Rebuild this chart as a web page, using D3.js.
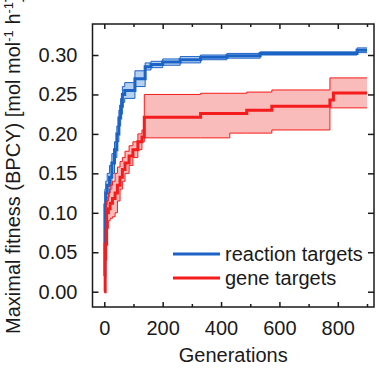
<!DOCTYPE html>
<html>
<head>
<meta charset="utf-8">
<script src="https://d3js.org/d3.v7.min.js"></script>
<style>
  body { margin: 0; background: #fff; }
  text { font-family: "Liberation Sans", Arial, sans-serif; fill: #1a1a1a; }
</style>
</head>
<body>
<div id="graphic"></div>
<script>
// data
const blueGen  = [0, 2, 5, 10, 18, 26, 35, 43, 50, 56, 62, 70, 105, 140, 160, 200, 260, 330, 420, 534, 866, 900];
const blueMean = [0.02, 0.11, 0.125, 0.135, 0.145, 0.163, 0.18, 0.20, 0.22, 0.235, 0.25, 0.255, 0.27, 0.285, 0.288, 0.291, 0.294, 0.297, 0.299, 0.302, 0.306, 0.306];
const blueLow  = [0.0, 0.09, 0.11, 0.12, 0.13, 0.15, 0.17, 0.19, 0.21, 0.225, 0.24, 0.245, 0.26, 0.281, 0.284, 0.287, 0.290, 0.294, 0.296, 0.300, 0.303, 0.303];
const blueHigh = [0.04, 0.13, 0.14, 0.15, 0.16, 0.175, 0.19, 0.21, 0.23, 0.245, 0.26, 0.265, 0.28, 0.290, 0.292, 0.295, 0.298, 0.300, 0.302, 0.304, 0.309, 0.309];

const redGen  = [0, 3, 8, 14, 20, 28, 37, 45, 54, 62, 71, 85, 98, 115, 129, 137, 330, 430, 488, 574, 773, 785, 900];
const redMean = [0.0, 0.06, 0.10, 0.105, 0.112, 0.118, 0.125, 0.135, 0.145, 0.155, 0.163, 0.172, 0.18, 0.19, 0.196, 0.221, 0.226, 0.226, 0.230, 0.235, 0.243, 0.252, 0.252];
const redLow  = [0.0, 0.04, 0.08, 0.09, 0.093, 0.095, 0.10, 0.115, 0.13, 0.14, 0.15, 0.16, 0.17, 0.18, 0.19, 0.195, 0.195, 0.201, 0.201, 0.205, 0.233, 0.233, 0.233];
const redHigh = [0.0, 0.08, 0.115, 0.125, 0.135, 0.14, 0.15, 0.158, 0.165, 0.17, 0.178, 0.185, 0.19, 0.2, 0.205, 0.250, 0.2515, 0.2515, 0.253, 0.2557, 0.271, 0.271, 0.271];

const xMajor = [0, 200, 400, 600, 800];
const xMinor = [100, 300, 500, 700, 900];
const yTicks = [0, 0.05, 0.10, 0.15, 0.20, 0.25, 0.30];
const seriesNames = ["reaction targets", "gene targets"];

// set the dimensions and margins of the graph
const margin = {top: 24, right: 5, bottom: 66, left: 92.5};
const width = 379 - margin.left - margin.right;
const height = 373 - margin.top - margin.bottom;

const svg = d3.select("#graphic")
    .append("svg")
    .attr("width", 379)
    .attr("height", 373)
    .append("g")
        .attr("transform", `translate(${margin.left}, ${margin.top})`);

const x = d3.scaleLinear().domain([-40.4, 924]).range([0, width]);
const y = d3.scaleLinear().domain([-0.0194, 0.3393]).range([height, 0]);

const color = {
    blue: '#1c63c6',
    blueFill: 'rgba(90, 150, 225, 0.45)',
    red: '#f41c1c',
    redFill: 'rgba(245, 120, 120, 0.5)'
};

function rows(gen, mean, low, high) {
    return gen.map((g, i) => ({g: g, m: mean[i], lo: low[i], hi: high[i]}));
}

function drawSeries(data, line, fill) {
    svg.append("path")
        .datum(data)
        .attr("fill", fill)
        .attr("stroke", "none")
        .attr("d", d3.area().curve(d3.curveStepAfter)
            .x(d => x(d.g)).y0(d => y(d.lo)).y1(d => y(d.hi)));
    ["lo", "hi"].forEach(k => {
        svg.append("path")
            .datum(data)
            .attr("fill", "none")
            .attr("stroke", line)
            .attr("stroke-width", 1)
            .attr("d", d3.line().curve(d3.curveStepAfter)
                .x(d => x(d.g)).y(d => y(d[k])));
    });
    svg.append("path")
        .datum(data)
        .attr("fill", "none")
        .attr("stroke", line)
        .attr("stroke-width", 3)
        .attr("d", d3.line().curve(d3.curveStepAfter)
            .x(d => x(d.g)).y(d => y(d.m)));
}

drawSeries(rows(blueGen, blueMean, blueLow, blueHigh), color.blue, color.blueFill);
drawSeries(rows(redGen, redMean, redLow, redHigh), color.red, color.redFill);

// axes, all ticks pointing inward
function styleAxis(g) {
    g.select(".domain").remove();
    g.selectAll("line").attr("stroke", "#1a1a1a").attr("stroke-width", 1.5);
    g.selectAll("text").style("font-size", "20px").attr("fill", "#1a1a1a");
}

svg.append("g")
    .attr("transform", `translate(0,${height})`)
    .call(d3.axisBottom(x).tickValues(xMajor).tickSize(-5).tickPadding(14).tickFormat(d3.format("d")))
    .call(styleAxis);
svg.append("g")
    .attr("transform", `translate(0,${height})`)
    .call(d3.axisBottom(x).tickValues(xMinor).tickSize(-3).tickFormat(""))
    .call(styleAxis);
svg.append("g")
    .call(d3.axisTop(x).tickValues(xMajor).tickSize(-5).tickFormat(""))
    .call(styleAxis);
svg.append("g")
    .call(d3.axisTop(x).tickValues(xMinor).tickSize(-3).tickFormat(""))
    .call(styleAxis);
svg.append("g")
    .call(d3.axisLeft(y).tickValues(yTicks).tickSize(-6).tickPadding(15).tickFormat(d3.format(".2f")))
    .call(styleAxis);
svg.append("g")
    .attr("transform", `translate(${width},0)`)
    .call(d3.axisRight(y).tickValues(yTicks).tickSize(-6).tickFormat(""))
    .call(styleAxis);

svg.append("rect")
    .attr("width", width)
    .attr("height", height)
    .attr("fill", "none")
    .attr("stroke", "#1a1a1a")
    .attr("stroke-width", 1.5);

// axis titles
svg.append("text")
    .attr("x", width / 2)
    .attr("y", height + 55)
    .attr("text-anchor", "middle")
    .style("font-size", "20px")
    .text("Generations");

const yLabel = svg.append("text")
    .attr("transform", `translate(${20 - margin.left},${334 - margin.top}) rotate(-90)`)
    .attr("text-anchor", "start")
    .style("font-size", "20px");
yLabel.append("tspan").text("Maximal fitness (BPCY) [mol mol");
yLabel.append("tspan").attr("dy", -7).style("font-size", "13px").text("-1");
yLabel.append("tspan").attr("dy", 7).text(" h");
yLabel.append("tspan").attr("dy", -7).style("font-size", "13px").text("-1");
yLabel.append("tspan").attr("dy", 7).text("]");

// legend
const legend = svg.append("g")
    .attr("transform", `translate(${173 - margin.left},${254 - margin.top})`);
seriesNames.forEach((name, i) => {
    const row = legend.append("g").attr("transform", `translate(0,${i * 24})`);
    row.append("line")
        .attr("x1", 0).attr("x2", 47)
        .attr("stroke", i === 0 ? color.blue : color.red)
        .attr("stroke-width", 3);
    row.append("text")
        .attr("x", 52)
        .attr("dy", "0.35em")
        .style("font-size", "20px")
        .text(name);
});
</script>
</body>
</html>
